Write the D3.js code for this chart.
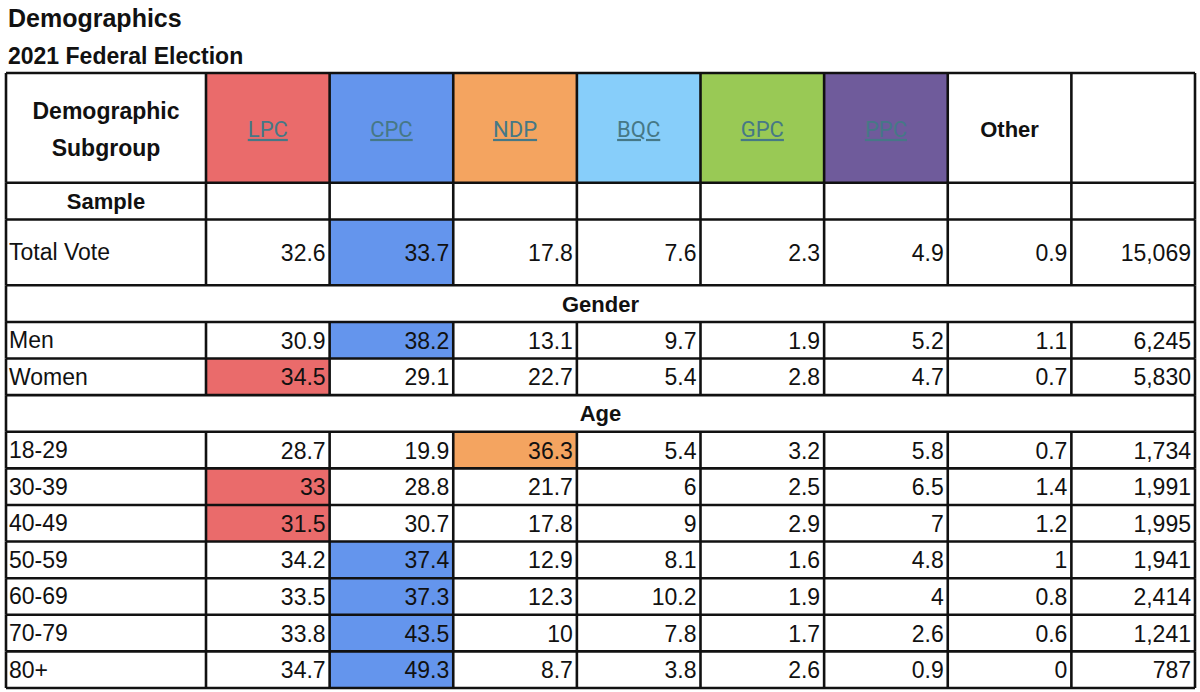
<!DOCTYPE html>
<html>
  <head>
    <meta charset="utf-8">
    <script src="https://d3js.org/d3.v7.min.js"></script>
    <style>
      body { margin: 0; background: #fff; }
      svg { display: block; }
    </style>
  </head>
  <body>
    <div id="chart"></div>

    <script>
      // columns of the table
      const parties = ["LPC", "CPC", "NDP", "BQC", "GPC", "PPC"];
      const columns = ["LPC", "CPC", "NDP", "BQC", "GPC", "PPC", "Other"];

      // total vote
      const totalLabel = "Total Vote";
      const totalValues = [32.6, 33.7, 17.8, 7.6, 2.3, 4.9, 0.9];
      const totalSample = 15069;

      // gender
      const genderGroups = ["Men", "Women"];
      const genderValues = [
        [30.9, 38.2, 13.1, 9.7, 1.9, 5.2, 1.1],
        [34.5, 29.1, 22.7, 5.4, 2.8, 4.7, 0.7]
      ];
      const genderSample = [6245, 5830];

      // age
      const ageGroups = ["18-29", "30-39", "40-49", "50-59", "60-69", "70-79", "80+"];
      const ageValues = [
        [28.7, 19.9, 36.3, 5.4, 3.2, 5.8, 0.7],
        [33, 28.8, 21.7, 6, 2.5, 6.5, 1.4],
        [31.5, 30.7, 17.8, 9, 2.9, 7, 1.2],
        [34.2, 37.4, 12.9, 8.1, 1.6, 4.8, 1],
        [33.5, 37.3, 12.3, 10.2, 1.9, 4, 0.8],
        [33.8, 43.5, 10, 7.8, 1.7, 2.6, 0.6],
        [34.7, 49.3, 8.7, 3.8, 2.6, 0.9, 0]
      ];
      const ageSample = [1734, 1991, 1995, 1941, 2414, 1241, 787];

      const width = 1200;
      const height = 692;
      const tblLeft = 6, firstCol = 206, tblRight = 1195;
      const tblTop = 73, tblBottom = 688;
      const ink = "#111";
      const linkColor = "#467886";
      const lineW = 2.6;
      const baseFont = "Liberation Sans, Arial, sans-serif";

      const partyColor = d3.scaleOrdinal()
        .domain(parties)
        .range(["#ea6b6b", "#6495ed", "#f4a460", "#87cefa", "#99c955", "#6f5b9b"]);

      // build the row list (h = height in row units)
      const rows = [];
      rows.push({ type: "header", h: 3 });
      rows.push({ type: "sample", h: 1 });
      rows.push({ type: "data", label: totalLabel, values: totalValues, n: totalSample, h: 1.8 });
      rows.push({ type: "section", label: "Gender", h: 1 });
      genderGroups.forEach((g, i) => rows.push({ type: "data", label: g, values: genderValues[i], n: genderSample[i], h: 1 }));
      rows.push({ type: "section", label: "Age", h: 1 });
      ageGroups.forEach((g, i) => rows.push({ type: "data", label: g, values: ageValues[i], n: ageSample[i], h: 1 }));

      let acc = 0;
      rows.forEach(r => { r.u0 = acc; acc += r.h; r.u1 = acc; });

      const y = d3.scaleLinear().domain([0, acc]).range([tblTop, tblBottom]);
      const cellCols = columns.concat(["Sample"]);
      const x = d3.scaleBand()
        .domain(cellCols)
        .range([firstCol, tblRight]);

      const svg = d3.select("#chart")
        .append("svg")
        .attr("width", width)
        .attr("height", height);

      // titles
      svg.append("text")
        .attr("x", 8).attr("y", 27)
        .style("font-family", baseFont)
        .style("font-weight", "bold")
        .style("font-size", "25px")
        .attr("fill", ink)
        .text("Demographics");
      svg.append("text")
        .attr("x", 8).attr("y", 64)
        .style("font-family", baseFont)
        .style("font-weight", "bold")
        .style("font-size", "23px")
        .attr("fill", ink)
        .text("2021 Federal Election");

      const table = svg.append("g");
      const fmtN = d3.format(",");

      rows.forEach(r => {
        const y0 = y(r.u0), y1 = y(r.u1), yc = (y0 + y1) / 2;
        const g = table.append("g");

        if (r.type === "section") {
          g.append("rect")
            .attr("x", tblLeft).attr("y", y0)
            .attr("width", tblRight - tblLeft).attr("height", y1 - y0)
            .attr("fill", "#fff");
          g.append("text")
            .attr("x", (tblLeft + tblRight) / 2).attr("y", yc + 8)
            .attr("text-anchor", "middle")
            .style("font-family", baseFont)
            .style("font-weight", "bold")
            .style("font-size", "22px")
            .attr("fill", ink)
            .text(r.label);
          return;
        }

        // first column cell
        g.append("rect")
          .attr("x", tblLeft).attr("y", y0)
          .attr("width", firstCol - tblLeft).attr("height", y1 - y0)
          .attr("fill", "#fff");

        // winner of the row gets the party colour
        let best = -1;
        if (r.type === "data") {
          best = d3.maxIndex(r.values.slice(0, parties.length));
        }
        g.selectAll("rect.cell")
          .data(cellCols)
          .join("rect")
          .attr("class", "cell")
          .attr("x", d => x(d)).attr("y", y0)
          .attr("width", x.bandwidth()).attr("height", y1 - y0)
          .attr("fill", (d, i) => {
            if (r.type === "header" && i < parties.length) return partyColor(d);
            if (r.type === "data" && i === best) return partyColor(d);
            return "#fff";
          });

        if (r.type === "header") {
          const lab = g.append("text")
            .attr("text-anchor", "middle")
            .style("font-family", baseFont)
            .style("font-weight", "bold")
            .style("font-size", "23px")
            .attr("fill", ink);
          lab.append("tspan").attr("x", (tblLeft + firstCol) / 2).attr("y", 119).text("Demographic");
          lab.append("tspan").attr("x", (tblLeft + firstCol) / 2).attr("y", 156).text("Subgroup");

          g.selectAll("text.party")
            .data(columns)
            .join("text")
            .attr("class", "party")
            .attr("x", d => x(d) + x.bandwidth() / 2)
            .attr("y", yc + 9)
            .attr("text-anchor", "middle")
            .style("font-family", d => d === "Other" ? baseFont : "Roboto, sans-serif")
            .style("font-weight", d => d === "Other" ? "bold" : "normal")
            .style("font-size", "22px")
            .style("text-decoration", d => d === "Other" ? "none" : "underline")
            .attr("fill", d => d === "Other" ? ink : linkColor)
            .text(d => d);
        } else if (r.type === "sample") {
          g.append("text")
            .attr("x", (tblLeft + firstCol) / 2).attr("y", yc + 8)
            .attr("text-anchor", "middle")
            .style("font-family", baseFont)
            .style("font-weight", "bold")
            .style("font-size", "22px")
            .attr("fill", ink)
            .text("Sample");
        } else {
          g.append("text")
            .attr("x", tblLeft + 3).attr("y", yc + 8)
            .style("font-family", baseFont)
            .style("font-size", "23px")
            .attr("fill", ink)
            .text(r.label);
          const cells = r.values.map((v, i) => ({ col: columns[i], txt: String(v) }));
          cells.push({ col: "Sample", txt: fmtN(r.n) });
          g.selectAll("text.val")
            .data(cells)
            .join("text")
            .attr("class", "val")
            .attr("x", d => x(d.col) + x.bandwidth() - 4)
            .attr("y", yc + 8.5)
            .attr("text-anchor", "end")
            .style("font-family", baseFont)
            .style("font-size", "23px")
            .attr("fill", ink)
            .text(d => d.txt);
        }
      });

      // grid lines
      const grid = svg.append("g")
        .attr("stroke", ink)
        .attr("stroke-width", lineW)
        .attr("fill", "none");

      const bounds = [rows[0].u0].concat(rows.map(r => r.u1));
      grid.selectAll("line.h")
        .data(bounds)
        .join("line")
        .attr("class", "h")
        .attr("x1", tblLeft).attr("x2", tblRight)
        .attr("y1", d => y(d)).attr("y2", d => y(d));

      const vx = [tblLeft, firstCol].concat(cellCols.map(c => x(c) + x.bandwidth()));
      rows.forEach(r => {
        const xs = r.type === "section" ? [tblLeft, tblRight] : vx;
        grid.append("g").selectAll("line")
          .data(xs)
          .join("line")
          .attr("x1", d => d).attr("x2", d => d)
          .attr("y1", y(r.u0)).attr("y2", y(r.u1));
      });
    </script>
  </body>
</html>
